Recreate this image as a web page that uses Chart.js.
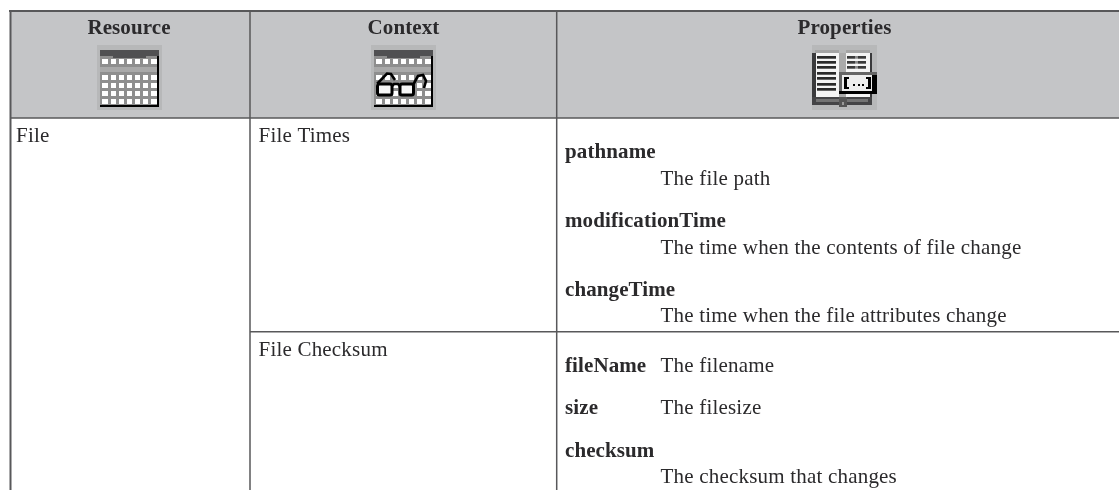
<!DOCTYPE html>
<html>
<head>
<meta charset="utf-8">
<style>
body { margin: 0; background: #fff; }
canvas { display: block; }
</style>
<script src="https://cdn.jsdelivr.net/npm/chart.js@4"></script>
</head>
<body>
<canvas id="tableChart" width="1119" height="490"></canvas>
<script>
// table text, x / baseline y in picture units
const headers = ['Resource', 'Context', 'Properties'];
const headerX = [129, 403.5, 844.5];
const headerY = 34;
const plainTexts = ['File', 'File Times', 'File Checksum', 'The file path', 'The time when the contents of file change',
    'The time when the file attributes change', 'The filename', 'The filesize', 'The checksum that changes'];
const plainX = [16, 258.5, 258.5, 660.5, 660.5, 660.5, 660.5, 660.5, 660.5];
const plainY = [142, 142, 356, 185, 254, 322, 372, 414, 483];
const boldTexts = ['pathname', 'modificationTime', 'changeTime', 'fileName', 'size', 'checksum'];
const boldX = 565;
const boldY = [158, 227, 296, 372, 414, 457];

// rules: [x1, y1, x2, y2]
const rules = [
    [9, 11, 1119, 11],
    [10.5, 10, 10.5, 490],
    [250, 10, 250, 490],
    [556.7, 10, 556.7, 490],
    [10, 118, 1119, 118],
    [250, 331.7, 1119, 331.7]
];

// calendar icon, local to its top-left corner
const calendarOrigins = [97, 371];
const calCellX = [5, 14, 22, 30, 38, 46, 54];
const calCellW = [6, 5, 5, 5, 5, 5, 6];
const calCellY = [14, 30, 38, 46, 54];
const glassLenses = [[377.5, 84, 14.5, 11], [400, 84, 13.5, 11]];
const glassLines = [
    [[392, 86], [394, 84], [398, 84], [400, 86]],
    [[377, 84], [387, 73.5], [391, 74], [395, 80]],
    [[413, 85], [418, 76], [423, 75], [426, 81], [424, 88]]
];

// book icon lines
const bookLeftLineY = [56, 61, 66, 72, 77, 83, 88];
const bookRightLineY = [56, 61, 66];
const bookDotX = [853, 858, 862];

const rect = (x, y, w, h, c) => ({ x, y, w, h, c });

function calendarRects(ox) {
    const out = [
        rect(ox, 45, 65, 65, '#b7b8b9'),
        rect(ox + 3, 50, 59, 6, '#505052'),
        rect(ox + 3, 56, 57, 49, '#8e8e8e'),
        rect(ox + 16, 56, 33, 2, '#505052'),
        rect(ox + 60, 56, 2, 51, '#000'),
        rect(ox + 3, 105, 59, 2, '#000'),
        rect(ox + 3, 67, 57, 5, '#a9a9a9')
    ];
    calCellY.forEach(y => calCellX.forEach((x, i) => out.push(rect(ox + x, 45 + y, calCellW[i], 5, '#fff'))));
    return out;
}

function bookRects() {
    const out = [
        rect(812, 45, 65, 65, '#b7b8b9'),
        rect(815, 50, 24, 3, '#a4a4a4'),
        rect(846, 50, 24, 3, '#a4a4a4'),
        rect(812, 53, 4, 52, '#3a3a3c'),
        rect(816, 53, 23, 44, '#f4f4f4'),
        rect(839, 53, 7, 44, '#aaaaaa'),
        rect(846, 53, 26, 44, '#f4f4f4'),
        rect(870, 53, 2, 44, '#3a3a3c')
    ];
    bookLeftLineY.forEach(y => out.push(rect(817, y, 19, 2.7, '#2a2a2a')));
    bookRightLineY.forEach(y => {
        out.push(rect(847, y, 8, 2.7, '#3a3a3a'));
        out.push(rect(855, y, 3, 2.7, '#8a8a8a'));
        out.push(rect(858, y, 8, 2.7, '#3a3a3a'));
    });
    out.push(rect(812, 97, 60, 8, '#444446'));
    out.push(rect(816, 99, 52, 3, '#737373'));
    out.push(rect(839, 97, 8, 10, '#555'));
    out.push(rect(842, 102, 2, 3, '#9a9a9a'));
    // value box
    out.push(rect(839, 72, 38, 22, '#000'));
    out.push(rect(839, 72, 38, 3, '#666'));
    out.push(rect(839, 75, 3, 16, '#666'));
    out.push(rect(842, 75, 30, 16, '#eeeeee'));
    out.push(rect(844, 77, 5, 12, '#000'));
    out.push(rect(847, 79, 2, 8, '#eeeeee'));
    out.push(rect(866, 77, 5, 12, '#000'));
    out.push(rect(866, 79, 2, 8, '#eeeeee'));
    bookDotX.forEach(x => out.push(rect(x, 84, 2, 2, '#000')));
    return out;
}

const tablePlugin = {
    id: 'tablePlugin',
    afterDatasetsDraw(chart) {
        const ctx = chart.ctx;
        const sx = chart.scales.x, sy = chart.scales.y;
        const px = v => sx.getPixelForValue(v);
        const py = v => sy.getPixelForValue(v);
        ctx.save();
        const rects = calendarOrigins.flatMap(calendarRects).concat(bookRects());
        rects.forEach(r => {
            ctx.fillStyle = r.c;
            ctx.fillRect(px(r.x), py(r.y), px(r.x + r.w) - px(r.x), py(r.y + r.h) - py(r.y));
        });
        // glasses over the second calendar
        ctx.strokeStyle = '#000';
        ctx.fillStyle = '#f6f6f6';
        ctx.lineWidth = 3;
        glassLenses.forEach(l => {
            ctx.beginPath();
            ctx.roundRect(px(l[0]), py(l[1]), l[2], l[3], 2);
            ctx.fill();
            ctx.stroke();
        });
        ctx.lineWidth = 2.6;
        glassLines.forEach(line => {
            ctx.beginPath();
            line.forEach((p, i) => i ? ctx.lineTo(px(p[0]), py(p[1])) : ctx.moveTo(px(p[0]), py(p[1])));
            ctx.stroke();
        });

        ctx.textBaseline = 'alphabetic';
        ctx.fillStyle = '#2b2a2c';
        ctx.font = 'bold 21px "Liberation Serif"';
        ctx.letterSpacing = '0.1px';
        ctx.textAlign = 'center';
        headers.forEach((t, i) => ctx.fillText(t, px(headerX[i]), py(headerY)));
        ctx.textAlign = 'left';
        boldTexts.forEach((t, i) => ctx.fillText(t, px(boldX), py(boldY[i])));
        ctx.font = '21px "Liberation Serif"';
        ctx.letterSpacing = '0.2px';
        plainTexts.forEach((t, i) => ctx.fillText(t, px(plainX[i]), py(plainY[i])));
        ctx.restore();
    }
};

const ruleSets = rules.map(r => ({
    data: [{ x: r[0], y: r[1] }, { x: r[2], y: r[3] }],
    showLine: true,
    borderColor: '#58585a',
    borderWidth: r[1] === 11 || r[0] === 10.5 ? 2 : 1.5,
    pointRadius: 0,
    clip: false,
    order: 1
}));

var ctx = document.getElementById('tableChart').getContext('2d');
var tableChart = new Chart(ctx, {
    type: 'scatter',
    data: {
        datasets: [{
            // grey header band
            data: [{ x: 10, y: 11 }, { x: 1119, y: 11 }],
            showLine: true,
            borderWidth: 0,
            pointRadius: 0,
            backgroundColor: '#c4c5c7',
            fill: { value: 118 },
            order: 2
        }].concat(ruleSets)
    },
    options: {
        responsive: false,
        animation: false,
        layout: { padding: 0 },
        plugins: { legend: { display: false }, tooltip: { enabled: false }, title: { display: false } },
        scales: {
            x: { type: 'linear', min: 0, max: 1119, display: false },
            y: { type: 'linear', min: 0, max: 490, reverse: true, display: false }
        }
    },
    plugins: [tablePlugin]
});
</script>
</body>
</html>
